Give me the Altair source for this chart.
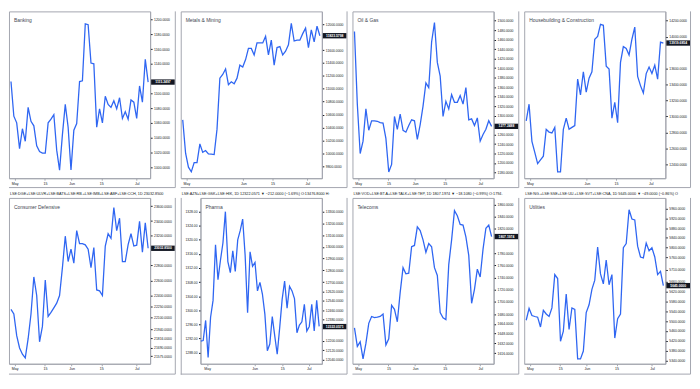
import altair as alt
import pandas as pd

# ---------------- data ----------------
names = ["Banking", "Metals & Mining", "Oil & Gas", "Housebuilding & Construction",
         "Consumer Defensive", "Pharma", "Telecoms", "Utilities"]

banking = [1116, 1069, 1060, 1025, 1052, 1035, 1081, 1062, 1056, 1029, 1021, 1019, 1019, 1060, 1065,
           1071, 1023, 996, 1044, 1085, 1054, 996, 1050, 1059, 1116, 1117, 1194, 1193, 1141, 1140,
           1054, 1079, 1060, 1096, 1085, 1081, 1090, 1079, 1094, 1066, 1075, 1065, 1091, 1088, 1066,
           1110, 1088, 1146, 1115.2497]
metals = [10518, 10000, 9784, 9712, 9856, 9856, 10144, 10014, 10043, 9990, 9985, 9980, 10374, 11165,
          11223, 11309, 11065, 11108, 11079, 11165, 11367, 11338, 11453, 11626, 11626, 11525, 11712,
          11712, 11712, 11813, 11525, 11755, 11367, 11640, 11655, 11525, 11583, 11683, 12014, 11741,
          11755, 11755, 11856, 11942, 11640, 11914, 11727, 11971, 11823.5798]
oil = [1477, 1324, 1220, 1246, 1314, 1269, 1289, 1289, 1288, 1285, 1284, 1252, 1181, 1197, 1298, 1271,
       1303, 1269, 1265, 1279, 1291, 1289, 1250, 1281, 1320, 1369, 1359, 1455, 1496, 1412, 1383, 1298,
       1330, 1314, 1344, 1328, 1328, 1342, 1324, 1359, 1291, 1293, 1279, 1295, 1246, 1260, 1271, 1289,
       1277.2488]
housebuilding = [12944, 13153, 12688, 12549, 12409, 12456, 12502, 12839, 12804, 12793, 12863, 12304,
                 12304, 12839, 12979, 12839, 12863, 12886, 13467, 13270, 13560, 13305, 13479, 13560,
                 13967, 14002, 14153, 14142, 13630, 13595, 12979, 13177, 12921, 13677, 13874, 13851,
                 13770, 13967, 14119, 13502, 13386, 13293, 13537, 13619, 13537, 13642, 13467, 13932,
                 13919.6854]
consumer = [22209, 22146, 21854, 21688, 21604, 21554, 21813, 22146, 22646, 22396, 21771, 21979, 22604,
            22113, 22167, 22229, 22292, 22396, 22771, 23196, 22854, 23021, 22833, 23271, 23096, 23096,
            23080, 23021, 22771, 23042, 22471, 22458, 22396, 23063, 23229, 23167, 23583, 23271, 23438,
            22854, 22854, 23083, 23229, 23063, 23075, 23396, 22979, 23375, 23032.85]
pharma = [1291.2, 1291.4, 1297.1, 1286.6, 1298.0, 1302.8, 1318.6, 1308.7, 1314.2, 1319.1, 1328.0,
          1313.8, 1310.7, 1316.9, 1311.0, 1320.0, 1322.6, 1325.9, 1315.6, 1299.3, 1316.6, 1312.5,
          1313.6, 1305.5, 1307.9, 1304.6, 1298.9, 1288.5, 1290.4, 1298.2, 1292.7, 1287.5, 1295.0,
          1303.1, 1308.3, 1300.6, 1306.8, 1305.5, 1303.3, 1293.6, 1295.8, 1296.7, 1301.7, 1294.1,
          1295.4, 1301.7, 1294.1, 1302.8, 1295.4]
telecoms = [1657.2, 1626.8, 1634.4, 1606.5, 1631.8, 1664.8, 1676.0, 1674.0, 1674.9, 1676.0, 1680.0,
            1629.3, 1639.5, 1694.2, 1687.7, 1667.3, 1715.5, 1756.1, 1746.0, 1747.0, 1790.5, 1792.6,
            1823.0, 1817.0, 1801.7, 1781.4, 1795.7, 1790.5, 1756.1, 1743.4, 1682.5, 1674.0, 1671.0,
            1761.1, 1801.7, 1849.8, 1841.3, 1827.0, 1826.0, 1806.8, 1776.3, 1697.7, 1720.6, 1753.6,
            1740.9, 1786.5, 1820.9, 1826.0, 1807.1974]
utilities = [5503.7, 5551.8, 5522.7, 5518.9, 5516.2, 5476.2, 5544.2, 5529.1, 5518.9, 5554.0, 5690.1,
             5673.9, 5417.9, 5459.5, 5610.7, 5465.9, 5554.0, 5548.0, 5346.1, 5346.0, 5377.9, 5535.1,
             5566.9, 5629.6, 5667.4, 5802.4, 5692.8, 5652.3, 5749.5, 5648.5, 5690.1, 5430.8, 5510.2,
             5529.1, 5799.7, 5816.4, 5954.7, 5916.9, 5913.1, 5806.1, 5761.9, 5758.1, 5818.6, 5787.3,
             5799.7, 5761.9, 5690.1, 5703.0, 5645.0]

last_labels = ["1115.2497", "11823.5798", "1277.2488", "13919.6854",
               "23032.8500", "12322.0571", "1807.1974", "5645.0000"]
pharma_last_right = 12322.0571

y_domains = [[985, 1211], [9613, 12201], [1168, 1519.5], [12226, 14316],
             [21475, 23712], [12006, 13416], [1598.4, 1870.6], [5326, 6003]]
pharma_left_domain = [1284.8, 1331.9]

y_ticks = [
    [1200, 1180, 1160, 1140, 1100, 1080, 1060, 1040, 1020, 1000],
    [12000, 11600, 11400, 11200, 11000, 10800, 10600, 10400, 10200, 10000, 9800],
    [1500, 1480, 1460, 1440, 1420, 1400, 1380, 1360, 1340, 1320, 1300, 1260, 1240, 1220, 1200, 1180],
    [14200, 14000, 13600, 13400, 13200, 13000, 12800, 12600, 12400],
    [23600, 23400, 23200, 22800, 22600, 22400, 22250, 22100, 21940, 21816, 21690, 21575],
    [13300, 13200, 13100, 13000, 12900, 12800, 12700, 12620, 12540, 12460, 12380, 12200, 12120, 12040],
    [1860, 1840, 1820, 1780, 1760, 1740, 1720, 1700, 1680, 1664, 1648, 1632, 1616],
    [5960, 5920, 5880, 5840, 5800, 5760, 5710, 5660, 5620, 5580, 5540, 5500, 5460, 5420, 5380, 5340],
]
pharma_left_ticks = [1328, 1324, 1320, 1316, 1312, 1308, 1304, 1300, 1296, 1292, 1288]

x5 = [(1.3, "May"), (11.9, "15"), (21.2, "Jun"), (31.6, "15"), (44.0, "Jul")]
x4 = [(1.3, "May"), (21.2, "Jun"), (31.4, "15"), (43.6, "Jul")]
x_pharma = [(2.6, "May"), (21.8, "Jun"), (33.0, "15"), (43.8, "Jul")]
x_ticks = [x5, x4, x5, x4, x5, x_pharma, x5, x5]

headers = [
    "LSE:DGE+LSE:ULVR+LSE:BATS+LSE:RB.+LSE:IMB+LSE:ABF+LSE:CCH, 1D  23032.8500",
    "LSE:AZN+LSE:GSK+LSE:HIK, 1D  12322.0571 \u25bc \u2212212.0000 (\u22121.69%) O:13476.8000 H:",
    "LSE:VOD+LSE:BT.A+LSE:TALK+LSE:TEP, 1D  1807.1974 \u25bc \u221218.1080 (\u22120.99%) O:1794.",
    "LSE:NG.+LSE:SSE+LSE:UU.+LSE:SVT+LSE:CNA, 1D  5645.0000 \u25bc \u221249.0000 (\u22120.86%) O",
]

series = [banking, metals, oil, housebuilding, consumer, pharma, telecoms, utilities]

# ---------------- style ----------------
W, AX, LAX = 143, 26, 20
H_TOP, H_BOT = 169, 168
XB_TOP, XB_BOT = 10, 11
LINE = "#2f66f2"
BORDER = "#a3a6af"
INK = "#131722"
FONT = "Liberation Sans"


def x_axis(ticks, xb):
    vals = [t[0] for t in ticks]
    expr = "''"
    for v, l in reversed(ticks):
        expr = f"datum.value == {v} ? '{l}' : ({expr})"
    return alt.Axis(values=vals, labelExpr=expr, title=None, grid=False, tickSize=2,
                    labelPadding=1, labelFontSize=3.6, labelFont=FONT, labelColor=INK,
                    domainColor=BORDER, tickColor=BORDER, minExtent=xb, maxExtent=xb,
                    labelOverlap=False, labelFlush=False)


def y_axis(vals, fmt, orient, ext):
    return alt.Axis(orient=orient, values=vals, format=fmt, title=None, grid=False, tickSize=2,
                    labelPadding=1.5, labelFontSize=3.4, labelFont=FONT, labelColor=INK,
                    domainColor=BORDER, tickColor=INK, minExtent=ext, maxExtent=ext,
                    labelOverlap=False, labelBound=False)


def sc(dom):
    return alt.Scale(domain=dom, nice=False, zero=False)


def panel(k, H, xb, header=None):
    values = series[k]
    is_pharma = names[k] == "Pharma"
    lax = LAX if is_pharma else 0
    w = W - lax
    df = pd.DataFrame({"i": list(range(len(values))), "v": values})
    xdom = [-0.1, 49.1] if is_pharma else [-0.7, 48.7]
    right_axis = y_axis(y_ticks[k], ".4f", "right", AX)

    if is_pharma:
        line_y = alt.Y("v:Q", scale=sc(pharma_left_domain),
                       axis=y_axis(pharma_left_ticks, ".2f", "left", LAX))
    else:
        line_y = alt.Y("v:Q", scale=sc(y_domains[k]), axis=right_axis)

    line = alt.Chart(df).mark_line(color=LINE, strokeWidth=1.3, clip=True).encode(
        x=alt.X("i:Q", scale=sc(xdom), axis=x_axis(x_ticks[k], xb)),
        y=line_y,
    )
    layers = [line]

    last_v = pharma_last_right if is_pharma else values[-1]
    last_df = pd.DataFrame({"v": [last_v], "lab": [last_labels[k]]})
    box = alt.Chart(last_df).mark_rect(color=INK, yOffset=-2.7, y2Offset=2.7).encode(
        x=alt.value(w + 1), x2=alt.value(w + 25),
        y=alt.Y("v:Q", scale=sc(y_domains[k]), axis=right_axis), y2="v:Q")
    box_txt = alt.Chart(last_df).mark_text(color="white", fontSize=3.4, font=FONT,
                                           fontWeight="bold", align="center",
                                           baseline="middle").encode(
        x=alt.value(w + 13), y=alt.Y("v:Q", scale=sc(y_domains[k]), axis=right_axis),
        text="lab:N")
    if is_pharma:
        layers.append(alt.layer(box, box_txt))
    else:
        layers += [box, box_txt]

    title = alt.Chart(pd.DataFrame({"t": [names[k]]})).mark_text(
        align="left", baseline="middle", fontSize=5, font=FONT, color="#434651").encode(
        x=alt.value(5), y=alt.value(9), text="t:N")
    one = pd.DataFrame({"a": [0]})
    frame_r = alt.Chart(one).mark_rule(color=BORDER, strokeWidth=1).encode(
        x=alt.value(w + AX - 0.5), y=alt.value(0), y2=alt.value(H + xb - 0.5))
    frame_b = alt.Chart(one).mark_rule(color=BORDER, strokeWidth=1).encode(
        x=alt.value(-lax), x2=alt.value(w + AX - 0.5), y=alt.value(H + xb - 0.5))
    layers += [title, frame_r, frame_b]
    if is_pharma:
        frame_l = alt.Chart(one).mark_rule(color=BORDER, strokeWidth=1).encode(
            x=alt.value(-lax + 0.5), y=alt.value(0), y2=alt.value(H + xb))
        layers.append(frame_l)
    if header is not None:
        head = alt.Chart(pd.DataFrame({"t": [header]})).mark_text(
            align="left", baseline="middle", fontSize=3.8, font=FONT, color=INK,
            limit=166, ellipsis="").encode(
            x=alt.value(1 - lax), y=alt.value(-4), text="t:N")
        layers.append(head)

    ch = alt.layer(*layers).properties(width=w, height=H)
    if is_pharma:
        ch = ch.resolve_scale(y="independent")
    return ch


top = alt.hconcat(*[panel(k, H_TOP, XB_TOP) for k in range(4)], spacing=3)
bottom = alt.hconcat(*[panel(k, H_BOT, XB_BOT, headers[k - 4]) for k in range(4, 8)], spacing=3)

chart = alt.vconcat(top, bottom, spacing=2).properties(
    padding={"left": 0, "top": 0, "right": 0, "bottom": 0}, background="white"
).configure(padding={"left": 0, "top": 0, "right": 0, "bottom": 0}).configure_view(
    stroke=BORDER, strokeWidth=1)

chart.save("out.html", embed_options={"renderer": "svg", "actions": False})
